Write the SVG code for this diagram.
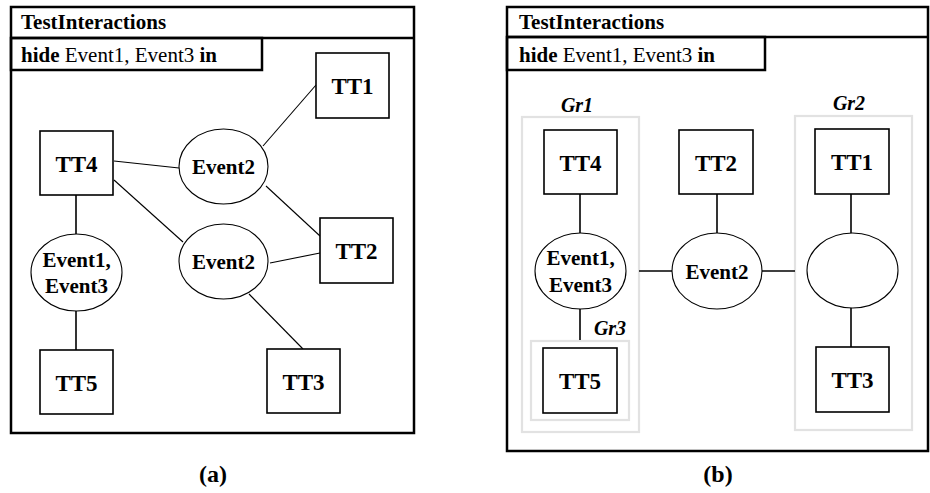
<svg xmlns="http://www.w3.org/2000/svg" width="930" height="493" viewBox="0 0 930 493">
<style>
.frame{fill:none;stroke:#000;stroke-width:2.5}
.box{fill:#fff;stroke:#000;stroke-width:1.6}
.ell{fill:#fff;stroke:#000;stroke-width:1.1}
.grp{fill:none;stroke:#e2e2e2;stroke-width:2.2}
.ln{stroke:#000;stroke-width:1.1;fill:none}
.lnv{stroke:#000;stroke-width:1.6;fill:none}
.hd{font-size:21px}
.b{font-weight:bold}
.tt{font-size:23px;font-weight:bold;text-anchor:middle}
.ev{font-size:21px;font-weight:bold;text-anchor:middle}
.gr{font-size:20px;font-weight:bold;font-style:italic;text-anchor:middle}
.cap{font-size:24px;font-weight:bold;text-anchor:middle}
</style>
<rect width="930" height="493" fill="#fff"/>
<g font-family="Liberation Serif, Times New Roman, serif" fill="#000">

<!-- Panel (a) -->
<g id="frameA">
<rect class="frame" x="11" y="7" width="403" height="426"/>
<line class="frame" x1="11" y1="38" x2="414" y2="38"/>
<rect class="frame" x="11" y="38" width="251" height="32"/>
<text class="hd b" x="21" y="29">TestInteractions</text>
<text class="hd" x="21" y="62"><tspan class="b">hide</tspan> Event1, Event3 <tspan class="b">in</tspan></text>
</g>
<g id="connA">
<line class="ln" x1="114" y1="161" x2="179" y2="168"/>
<line class="ln" x1="263" y1="146" x2="316" y2="85"/>
<line class="ln" x1="266" y1="186" x2="320" y2="236"/>
<line class="ln" x1="114" y1="180" x2="183" y2="242"/>
<line class="ln" x1="270" y1="263" x2="320" y2="253"/>
<line class="ln" x1="249" y1="294" x2="303" y2="349"/>
<line class="lnv" x1="76" y1="195" x2="76" y2="234"/>
<line class="lnv" x1="76" y1="311" x2="76" y2="350"/>
</g>
<g id="a_TT1"><rect class="box" x="316" y="53" width="73" height="65"/><text class="tt" x="352.5" y="94">TT1</text></g>
<g id="a_TT4"><rect class="box" x="40" y="131" width="73" height="64"/><text class="tt" x="76.5" y="171.5">TT4</text></g>
<g id="a_TT2"><rect class="box" x="320" y="218" width="73" height="65"/><text class="tt" x="356.5" y="259">TT2</text></g>
<g id="a_TT5"><rect class="box" x="40" y="350" width="73" height="64"/><text class="tt" x="76.5" y="390.5">TT5</text></g>
<g id="a_TT3"><rect class="box" x="267" y="349" width="73" height="64"/><text class="tt" x="303.5" y="389.5">TT3</text></g>
<g id="a_Event2top"><ellipse class="ell" cx="223.5" cy="166.5" rx="44.5" ry="37.5"/><text class="ev" x="223.5" y="174">Event2</text></g>
<g id="a_Event2bot"><ellipse class="ell" cx="223.5" cy="261.5" rx="44.5" ry="37.5"/><text class="ev" x="223.5" y="269">Event2</text></g>
<g id="a_Event13"><ellipse class="ell" cx="76.5" cy="272.5" rx="45.5" ry="38.5"/><text class="ev" x="76.5" y="267">Event1,</text><text class="ev" x="76.5" y="293">Event3</text></g>
<text class="cap" x="213" y="482">(a)</text>

<!-- Panel (b) -->
<g id="frameB">
<rect class="frame" x="507" y="7" width="421" height="444"/>
<line class="frame" x1="507" y1="37" x2="928" y2="37"/>
<rect class="frame" x="507" y="37" width="258" height="33"/>
<text class="hd b" x="519" y="29">TestInteractions</text>
<text class="hd" x="519" y="62"><tspan class="b">hide</tspan> Event1, Event3 <tspan class="b">in</tspan></text>
</g>
<g id="b_Gr1"><rect class="grp" x="522" y="117" width="117" height="315"/><text class="gr" x="577" y="112">Gr1</text></g>
<g id="b_Gr2"><rect class="grp" x="795" y="116" width="117" height="314"/><text class="gr" x="849" y="110">Gr2</text></g>
<g id="b_Gr3"><rect class="grp" x="531" y="341" width="98" height="79"/><text class="gr" x="610" y="335">Gr3</text></g>
<g id="connB">
<line class="lnv" x1="580" y1="194" x2="580" y2="233"/>
<line class="lnv" x1="717" y1="194" x2="717" y2="233"/>
<line class="lnv" x1="851" y1="194" x2="851" y2="233"/>
<line class="lnv" x1="580" y1="309" x2="580" y2="340"/>
<line class="lnv" x1="851" y1="308" x2="851" y2="347"/>
<line class="lnv" x1="639" y1="271" x2="672" y2="271"/>
<line class="lnv" x1="762" y1="271" x2="795" y2="271"/>
</g>
<g id="b_TT4"><rect class="box" x="544" y="130" width="73" height="64"/><text class="tt" x="580.5" y="170.5">TT4</text></g>
<g id="b_TT2"><rect class="box" x="679" y="130" width="74" height="64"/><text class="tt" x="716" y="170.5">TT2</text></g>
<g id="b_TT1"><rect class="box" x="815" y="129" width="74" height="65"/><text class="tt" x="852" y="170">TT1</text></g>
<g id="b_TT5"><rect class="box" x="543" y="348" width="74" height="65"/><text class="tt" x="580" y="389">TT5</text></g>
<g id="b_TT3"><rect class="box" x="816" y="347" width="73" height="65"/><text class="tt" x="852.5" y="388">TT3</text></g>
<g id="b_Event13"><ellipse class="ell" cx="580.5" cy="271" rx="45.5" ry="38"/><text class="ev" x="580.5" y="265">Event1,</text><text class="ev" x="580.5" y="292">Event3</text></g>
<g id="b_Event2"><ellipse class="ell" cx="717" cy="271" rx="45" ry="38"/><text class="ev" x="717" y="278.5">Event2</text></g>
<g id="b_Empty"><ellipse class="ell" cx="852.5" cy="270.5" rx="45.5" ry="37.5"/></g>
<text class="cap" x="718" y="482">(b)</text>
</g>
</svg>
